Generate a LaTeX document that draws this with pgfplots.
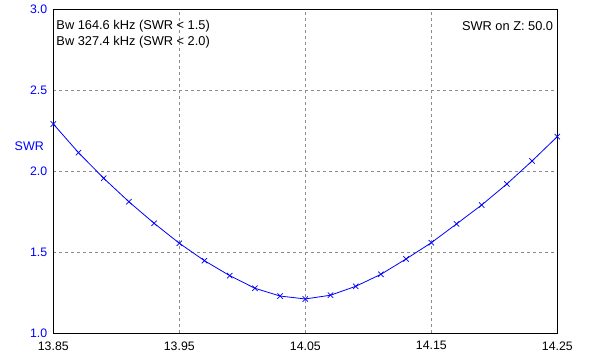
\documentclass[border=0pt]{standalone}
\usepackage{pgfplots}
\pgfplotsset{compat=1.18}
\usepackage{fontspec}
\setmainfont{Liberation Sans}
\begin{document}
\fontsize{12bp}{14bp}\selectfont
\begin{tikzpicture}
\begin{axis}[
  scale only axis,
  width=504bp, height=324bp,
  xmin=13.85, xmax=14.25, ymin=1.0, ymax=3.0,
  xtick={13.85,13.95,14.05,14.15,14.25},
  ytick={1.0,1.5,2.0,2.5,3.0},
  major tick length=0pt,
  grid=major,
  major grid style={gray!90, dash pattern=on 3bp off 3bp, line width=0.8bp},
  axis line style={black, line width=1.2bp},
  /pgf/number format/assume math mode=true,
  xticklabel style={/pgf/number format/.cd, fixed, fixed zerofill, precision=2, /tikz/.cd, black, yshift=-4bp},
  yticklabel style={/pgf/number format/.cd, fixed, fixed zerofill, precision=1, /tikz/.cd, blue, xshift=-2bp},
  tick label style={font=\fontsize{12.3bp}{14bp}\selectfont},
  clip=false,
  axis on top=false,
]
\addplot[blue, line width=0.8bp, mark=x, mark size=3.8bp, mark options={solid, line width=0.7bp}] coordinates {
(13.85,2.292) (13.87,2.115) (13.89,1.957) (13.91,1.812) (13.93,1.679)
(13.95,1.556) (13.97,1.448) (13.99,1.356) (14.01,1.278) (14.03,1.230)
(14.05,1.212) (14.07,1.235) (14.09,1.290) (14.11,1.364) (14.13,1.459)
(14.15,1.559) (14.17,1.675) (14.19,1.792) (14.21,1.922) (14.23,2.064)
(14.25,2.214)
};
\node[anchor=center, blue, font=\fontsize{12.5bp}{14bp}\selectfont] at ([xshift=-24bp]axis cs:13.85,2.152) {SWR};
\node[anchor=west, align=left, inner sep=0pt, font=\fontsize{12.8bp}{16.5bp}\selectfont] at ([xshift=3bp, yshift=-25bp]rel axis cs:0,1) {Bw 164.6 kHz (SWR < 1.5)\\Bw 327.4 kHz (SWR < 2.0)};
\node[anchor=east, inner sep=0pt, font=\fontsize{12.8bp}{14bp}\selectfont] at ([xshift=-4bp, yshift=-16.5bp]rel axis cs:1,1) {SWR on Z: 50.0};
\end{axis}
\pgfresetboundingbox
\path (-53.3bp,-25.7bp) rectangle (546.7bp,333.3bp);
\end{tikzpicture}
\end{document}
